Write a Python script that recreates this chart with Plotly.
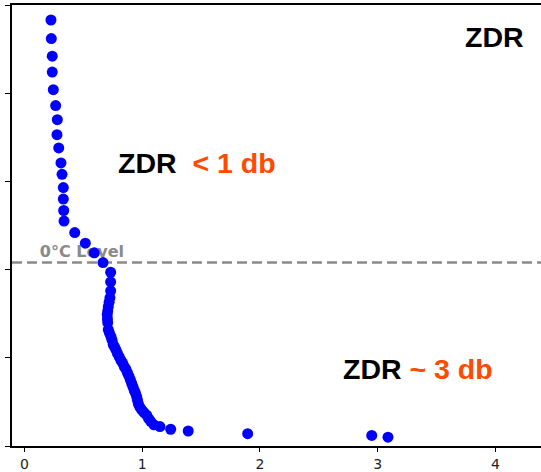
import plotly.graph_objects as go

# ZDR values (dB) and heights (axis units, unlabeled)
zdr = [0.225, 0.228, 0.236, 0.236, 0.245, 0.265, 0.279, 0.276, 0.291, 0.310,
       0.319, 0.330, 0.330, 0.333, 0.336, 0.427, 0.517, 0.593, 0.667, 0.732,
       0.732, 0.732, 0.726, 0.719, 0.712, 0.707, 0.703, 0.705, 0.707, 0.712,
       0.722, 0.735, 0.744, 0.754, 0.766, 0.777, 0.790, 0.805, 0.820, 0.834,
       0.848, 0.862, 0.875, 0.888, 0.900, 0.911, 0.922, 0.933, 0.943, 0.953,
       0.960, 0.967, 0.980, 0.996, 1.015, 1.038, 1.055, 1.072, 1.100, 1.151,
       1.242, 1.391, 1.896, 2.950, 3.088]
height = [4.83, 4.62, 4.42, 4.24, 4.04, 3.86, 3.70, 3.53, 3.38, 3.21,
          3.08, 2.93, 2.80, 2.67, 2.55, 2.42, 2.30, 2.19, 2.08, 1.97,
          1.86, 1.76, 1.68, 1.63, 1.58, 1.53, 1.49, 1.44, 1.40, 1.32,
          1.28, 1.24, 1.20, 1.15, 1.12, 1.09, 1.05, 1.01, 0.97, 0.94,
          0.90, 0.87, 0.83, 0.79, 0.75, 0.71, 0.67, 0.63, 0.60, 0.56,
          0.52, 0.48, 0.44, 0.41, 0.38, 0.35, 0.31, 0.28, 0.24, 0.22,
          0.19, 0.17, 0.14, 0.12, 0.10]

x_ticks = [0, 1, 2, 3, 4]
x_tick_labels = ["0", "1", "2", "3", "4"]
y_ticks = [0, 1, 2, 3, 4, 5]
freezing_level = 2.08

fig = go.Figure()

# 0°C level label (drawn beneath the points)
fig.add_trace(go.Scatter(
    x=[0.13], y=[freezing_level + 0.11], mode="text", text=["0°C Level"],
    textposition="middle right",
    textfont=dict(family="DejaVu Sans", size=16, color="#8a8a8a", weight="bold"),
    hoverinfo="skip", showlegend=False,
))

fig.add_trace(go.Scatter(
    x=zdr, y=height, mode="markers",
    marker=dict(color="#0000ff", size=11, line=dict(width=0)),
    showlegend=False,
))

# dashed 0°C line (shape, beneath the points)
fig.add_hline(y=freezing_level, line=dict(color="#8a8a8a", width=2.5, dash="10px,5px"),
              layer="below")

big = dict(family="Liberation Sans, Arial", size=28.5, color="black")
fig.add_annotation(x=3.989, y=4.637, text="<b>ZDR</b>", showarrow=False,
                   font=big, xanchor="center", yanchor="middle")
fig.add_annotation(x=1.466, y=3.214,
                   text="<b>ZDR&nbsp;&nbsp;<span style='color:#ff4a00'>&lt; 1 db</span></b>",
                   showarrow=False, font=big, xanchor="center", yanchor="middle")
fig.add_annotation(x=3.343, y=0.876,
                   text="<b>ZDR <span style='color:#ff4a00'>~ 3 db</span></b>",
                   showarrow=False, font=big, xanchor="center", yanchor="middle")

fig.update_layout(
    width=541, height=472,
    margin=dict(l=12, r=0, t=5, b=26),
    paper_bgcolor="white", plot_bgcolor="white",
    xaxis=dict(range=[-0.106, 4.388], tickvals=x_ticks, ticktext=x_tick_labels,
               showgrid=False, zeroline=False, showline=True, linecolor="black",
               linewidth=2, mirror=True, ticks="outside", ticklen=4, tickwidth=1,
               tickcolor="black",
               tickfont=dict(family="DejaVu Sans", size=14, color="#222")),
    yaxis=dict(range=[0, 5], tickvals=y_ticks, showticklabels=False,
               showgrid=False, zeroline=False, showline=True, linecolor="black",
               linewidth=2, mirror=False, ticks="outside", ticklen=5, tickwidth=1,
               tickcolor="black"),
)

fig.write_html("out.html", config={"displayModeBar": False},
               post_script="document.body.style.margin='0px';document.body.style.overflow='hidden';")
